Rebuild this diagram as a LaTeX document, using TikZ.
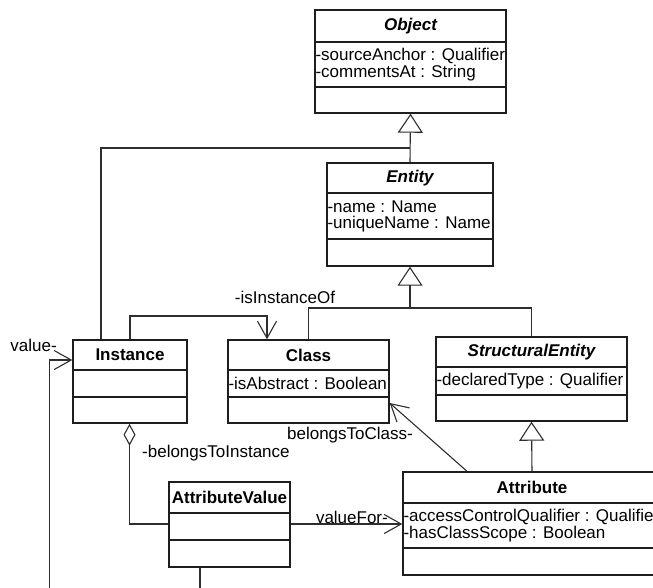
\documentclass[tikz,border=0pt]{standalone}
\usepackage{fontspec}
\setmainfont{Liberation Sans}
\usetikzlibrary{arrows.meta,fit}

\definecolor{umlline}{HTML}{1E1E1E}
\definecolor{umlconn}{HTML}{2E2E2E}

\newcommand\umlfont{\fontsize{17}{18}\selectfont}

\tikzset{
  classbox/.style={draw=umlline, line width=1.4pt, inner sep=0pt, fill=white},
  compart/.style={draw=umlline, line width=1.4pt},
  classtitle/.style={font=\umlfont\bfseries, inner sep=0pt, text=black},
  abstitle/.style={font=\umlfont\bfseries\itshape, inner sep=0pt, text=black},
  member/.style={font=\umlfont, anchor=west, inner sep=0pt, xshift=1pt, text=black},
  rolelabel/.style={font=\umlfont, inner sep=0pt, text=black},
  conn/.style={draw=umlconn, line width=1.1pt},
  gen/.style={conn, -{Triangle[open, length=19pt, width=25pt]}},
  nav/.style={conn, -{Straight Barb[length=17pt, width=19pt]}},
  agg/.style={conn, {Diamond[open, length=22pt, width=12pt]}-},
}

% class box with three compartments: name, x1, y1, x2, y2, first and second separator
\newcommand\umlclass[7]{%
  \node[classbox, fit={(#2,#3)(#4,#5)}] (#1) {};
  \draw[compart] (#1.west |- 0,#6) -- (#1.east |- 0,#6);
  \draw[compart] (#1.west |- 0,#7) -- (#1.east |- 0,#7);
}

\begin{document}
\begin{tikzpicture}[x=1pt, y=-1pt]
\useasboundingbox (0,0) rectangle (653,587);
\clip (0,0) rectangle (653,587);

% ---------- classes ----------
\umlclass{object}{315}{10}{506}{113}{42}{87}
\node[abstitle] at (object.north |- 0,26) {Object};
\node[member] at (object.west |- 0,56) {-sourceAnchor : Qualifier};
\node[member] at (object.west |- 0,73) {-commentsAt : String};

\umlclass{entity}{327}{163}{493}{266}{193}{239}
\node[abstitle] at (entity.north |- 0,178) {Entity};
\node[member] at (entity.west |- 0,207) {-name : Name};
\node[member] at (entity.west |- 0,224) {-uniqueName : Name};

\umlclass{instance}{73}{340}{187}{423}{370}{397}
\node[classtitle] at (instance.north |- 0,355) {Instance};

\umlclass{class}{228}{340}{389}{423}{370}{397}
\node[classtitle] at (class.north |- 0,355) {Class};
\node[member] at (class.west |- 0,383) {-isAbstract : Boolean};

\umlclass{sentity}{436}{337}{627}{421}{367}{395}
\node[abstitle] at (sentity.north |- 0,352) {StructuralEntity};
\node[member] at (sentity.west |- 0,381) {-declaredType : Qualifier};

\umlclass{attrval}{169}{482}{290}{567}{513}{540}
\node[classtitle] at (attrval.north |- 0,497.5) {AttributeValue};

\umlclass{attribute}{403}{472}{661}{575}{503}{548}
\node[classtitle] at (attribute.north |- 0,487.5) {Attribute};
\node[member] at (attribute.west |- 0,517) {-accessControlQualifier : Qualifier};
\node[member] at (attribute.west |- 0,534) {-hasClassScope : Boolean};

% ---------- generalisations ----------
\draw[gen] (entity.north) -- (object.south);
\draw[conn] (instance.north -| 101,0) |- (entity.north |- 0,148);
\coordinate (genjoin) at (entity.south |- 0,308);
\draw[gen] (genjoin) -- (entity.south);
\draw[conn] (class.north) |- (genjoin) -| (sentity.north);
\draw[gen] (attribute.north) -- (sentity.south);

% ---------- associations ----------
\draw[nav] (instance.north -| 130,0) -- (130,316) -| (class.north -| 267,0);
\node[rolelabel] (lblinstof) at (285,297) {-isInstanceOf};

\draw[agg] (instance.south -| 129.5,0) |- (attrval.west |- 0,524);
\node[rolelabel, anchor=west] (lblbelongsinst) at (142,453) {-belongsToInstance};

\draw[nav] (attrval.east |- 0,524) -- (attribute.west |- 0,524);
\node[rolelabel, anchor=east] (lblvaluefor) at (388,517) {valueFor-};

\draw[nav] (attribute.north -| 467,0) -- (class.east |- 0,403);
\node[rolelabel, anchor=east] (lblbelongsclass) at (413,435) {belongsToClass-};

\draw[nav] (attrval.south -| 200,0) -- (200,600) -| (49.5,360) -- (instance.west |- 0,360);
\node[rolelabel, anchor=east] (lblvalue) at (57,345) {value-};
\end{tikzpicture}
\end{document}
